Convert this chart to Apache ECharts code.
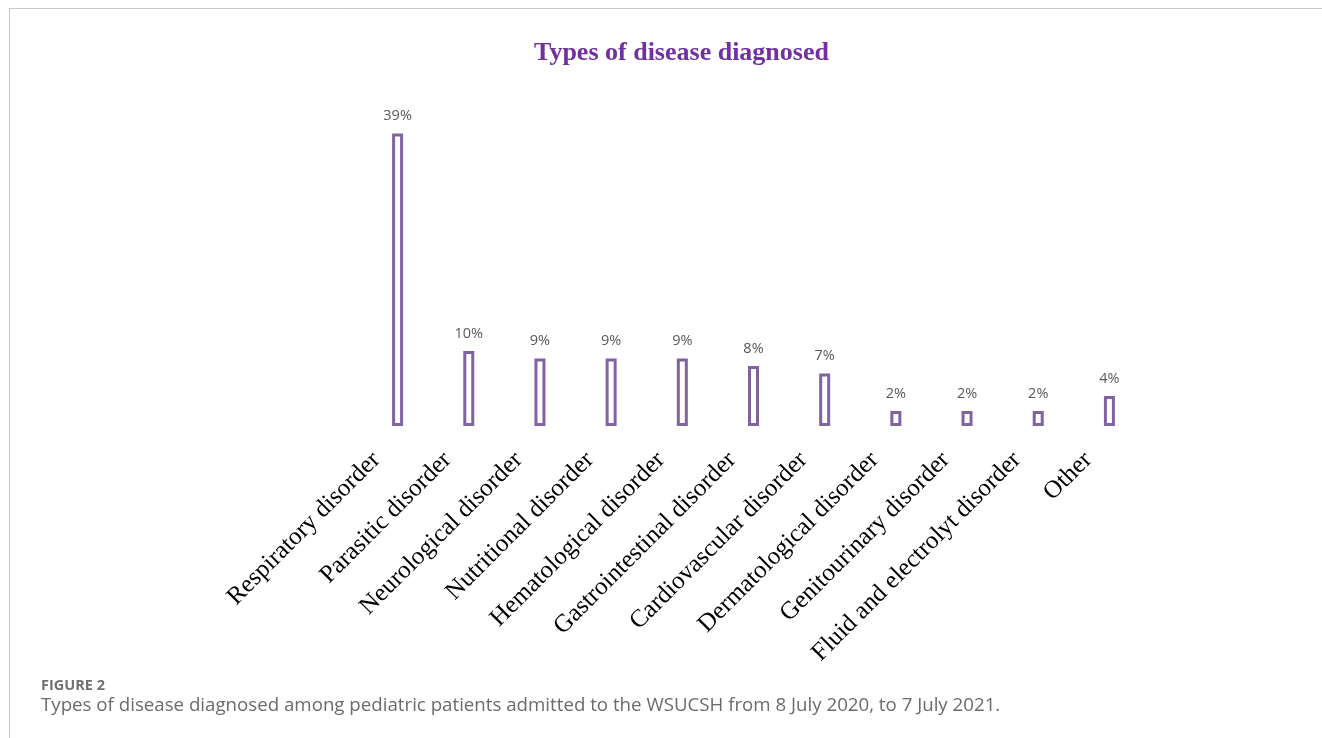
<!DOCTYPE html>
<html>
<head>
<meta charset="utf-8">
<script src="https://cdn.jsdelivr.net/npm/echarts@6/dist/echarts.min.js"></script>
<style>
  html, body { margin: 0; padding: 0; background: #fff; }
  #chart { width: 1322px; height: 738px; }
</style>
</head>
<body>
<div id="chart"></div>
<script>
var categories = ['Respiratory disorder', 'Parasitic disorder', 'Neurological disorder',
  'Nutritional disorder', 'Hematological disorder', 'Gastrointestinal disorder',
  'Cardiovascular disorder', 'Dermatological disorder', 'Genitourinary disorder',
  'Fluid and electrolyt disorder', 'Other'];
var percents = [39, 10, 9, 9, 9, 8, 7, 2, 2, 2, 4];

var caption = 'Types of disease diagnosed among pediatric patients admitted to the WSUCSH from 8 July 2020, to 7 July 2021.';

var dom = document.getElementById('chart');
var myChart = echarts.init(dom);
var option = {
  backgroundColor: '#fff',
  animation: false,
  title: {
    text: 'Types of disease diagnosed',
    left: 529,
    top: 35,
    textStyle: {
      fontFamily: 'Liberation Serif',
      fontWeight: 'bold',
      fontSize: 26,
      color: '#7030A0'
    }
  },
  grid: { left: 362, right: 177, top: 126, bottom: 312 },
  xAxis: {
    type: 'category',
    data: categories,
    axisLine: { show: false },
    axisTick: { show: false },
    axisLabel: {
      interval: 0,
      rotate: 45,
      margin: 9,
      padding: [0, 30, 0, 0],
      fontFamily: 'Liberation Serif',
      fontSize: 25,
      color: '#000'
    }
  },
  yAxis: {
    type: 'value',
    min: 0,
    max: 40,
    show: false,
    splitLine: { show: false }
  },
  series: [{
    name: 'Percentage',
    type: 'bar',
    data: percents,
    barWidth: 11,
    itemStyle: {
      color: '#fff',
      borderColor: '#8064A2',
      borderWidth: 3
    },
    label: {
      show: true,
      position: 'top',
      distance: 10,
      formatter: '{c}%',
      fontFamily: 'Open Sans',
      fontSize: 14.5,
      color: '#595959'
    }
  }],
  graphic: [
    { type: 'line', shape: { x1: 9, y1: 8.5, x2: 1322, y2: 8.5 }, style: { stroke: '#c8c8c8', lineWidth: 1 } },
    { type: 'line', shape: { x1: 9.5, y1: 8, x2: 9.5, y2: 738 }, style: { stroke: '#c8c8c8', lineWidth: 1 } },
    { type: 'text', left: 41, top: 678, style: { text: 'FIGURE 2', font: 'bold 14.5px "Open Sans"', fill: '#707070' } },
    { type: 'text', left: 41, top: 696, style: { text: caption, font: '18.7px "Open Sans"', fill: '#6b6b6b' } }
  ]
};
myChart.setOption(option, true);
</script>
</body>
</html>
